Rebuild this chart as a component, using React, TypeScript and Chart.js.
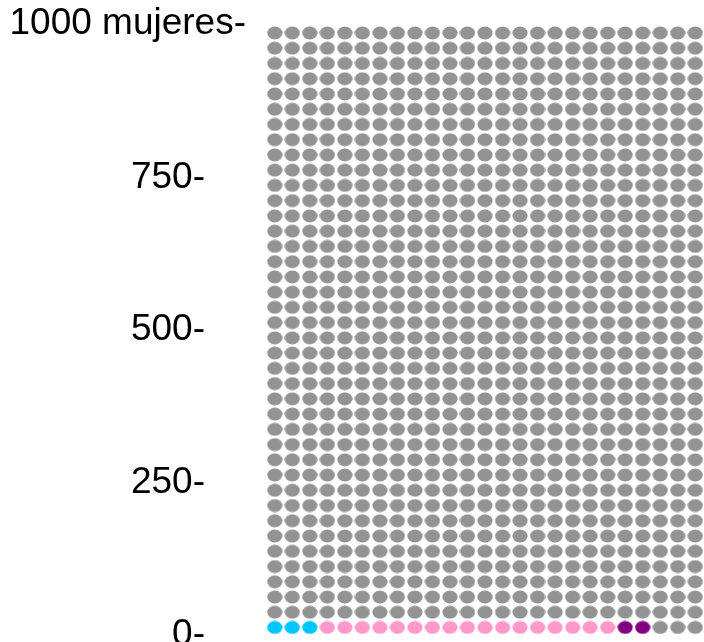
import React, { useEffect, useRef } from "react";
import { Chart, registerables } from "chart.js";

Chart.register(...registerables);

// ---- data ----
const categories = ["Grupo A", "Grupo B", "Grupo C", "Resto"];
const counts = [3, 17, 2, 978];
const colors = ["#00C5FF", "#FF99CC", "#800080", "#939393"];
const perRow = 25;
const rowSize = 25; // women per row
const yTickValues = [0, 250, 500, 750, 1000];
const yTickLabels = ["0-", "250-", "500-", "750-", "1000 mujeres-"];

const FONT = "'Liberation Sans', Arial, sans-serif";

function ellipseImage(color: string): HTMLCanvasElement {
  const c = document.createElement("canvas");
  c.width = 16;
  c.height = 14;
  const g = c.getContext("2d")!;
  g.fillStyle = color;
  g.beginPath();
  g.ellipse(8, 7, 7.6, 6.4, 0, 0, Math.PI * 2);
  g.fill();
  return c;
}

export default function App() {
  const ref = useRef<HTMLCanvasElement | null>(null);

  useEffect(() => {
    if (!ref.current) return;
    let idx = 0;
    const datasets = categories.map((name, k) => {
      const pts: { x: number; y: number }[] = [];
      for (let n = 0; n < counts[k]; n++) {
        const col = idx % perRow;
        const row = Math.floor(idx / perRow);
        pts.push({ x: col, y: row * rowSize + rowSize / 2 });
        idx++;
      }
      return {
        label: name,
        data: pts,
        pointStyle: ellipseImage(colors[k]),
        backgroundColor: colors[k],
        borderColor: colors[k],
        showLine: false,
      };
    });

    const topLabelPlugin = {
      id: "topLabel",
      afterDraw(chart: any) {
        const ys = chart.scales.y;
        const ctx = chart.ctx;
        const i = yTickValues.length - 1;
        ctx.save();
        ctx.font = `37px ${FONT}`;
        ctx.fillStyle = "#000";
        ctx.textAlign = "right";
        ctx.textBaseline = "middle";
        ctx.fillText(yTickLabels[i], chart.chartArea.left - 20, ys.getPixelForValue(yTickValues[i]) - 2);
        ctx.restore();
      },
    };

    const chart = new Chart(ref.current, {
      type: "scatter",
      data: { datasets: datasets as any },
      options: {
        animation: false,
        responsive: false,
        events: [],
        layout: { padding: 0, autoPadding: false },
        plugins: { legend: { display: false }, tooltip: { enabled: false } },
        scales: {
          x: { type: "linear", min: -0.5, max: 24.5, display: false },
          y: {
            type: "linear",
            min: -11.3,
            max: 1041.6,
            position: "left",
            grid: { display: false, drawTicks: false },
            border: { display: false },
            afterBuildTicks: (scale: any) => {
              scale.ticks = yTickValues.slice(0, -1).map((v) => ({ value: v }));
            },
            afterFit: (scale: any) => {
              scale.width = 266;
              scale.paddingTop = 0;
              scale.paddingBottom = 0;
            },
            ticks: {
              autoSkip: false,
              padding: 61,
              color: "#000",
              font: { size: 37, family: FONT },
              callback: (v: any) => {
                const i = yTickValues.indexOf(Number(v));
                return i >= 0 ? yTickLabels[i] : "";
              },
            },
          },
        },
      },
      plugins: [topLabelPlugin],
    });
    return () => chart.destroy();
  }, []);

  return (
    <div style={{ position: "fixed", left: 0, top: 0, width: 704, height: 642, background: "#fff" }}>
      <canvas ref={ref} width={704} height={642} style={{ width: 704, height: 642, display: "block" }} />
    </div>
  );
}
